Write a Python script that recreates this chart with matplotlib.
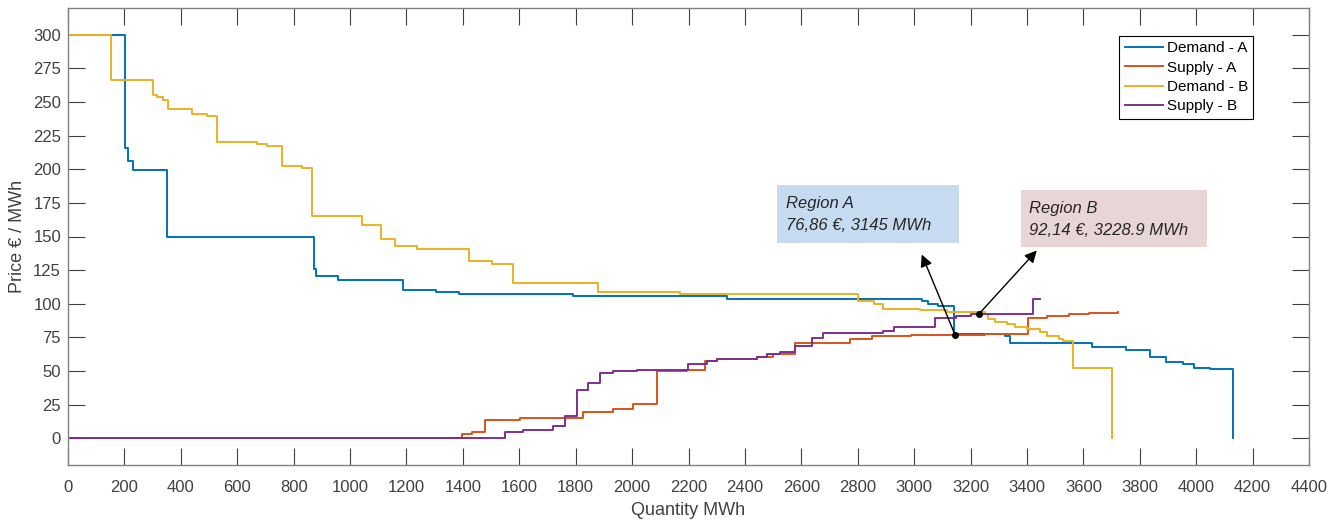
# arz / talep eğrileri, iki bölge için denge noktaları

import matplotlib
matplotlib.use("Agg")
import matplotlib.pyplot as plt
from matplotlib.patches import Rectangle

plt.rcParams["font.family"] = ["Liberation Sans", "DejaVu Sans"]

# Demand - A (basamak başlangıcı, fiyat)
talep_a_q = [0, 202, 214, 229, 350, 873, 879, 959, 1189, 1305, 1388, 1790, 2336,
             3027, 3050, 3085, 3140, 3323, 3340, 3630, 3752, 3835, 3894, 3955,
             3991, 4050, 4129, 4129]
talep_a_p = [300, 215.8, 206.4, 199.7, 150, 125.5, 120.5, 117.5, 110, 108.6, 107.4, 106, 103.7,
             102, 99.5, 98.2, 77.2, 76, 70.5, 68, 65.5, 60, 57, 55,
             52.5, 51.2, 0, 0]

# Supply - A
arz_a_q = [0, 1396, 1431, 1479, 1603, 1827, 1933, 2004, 2088, 2194, 2259, 2300,
           2442, 2500, 2578, 2773, 2850, 2990, 3090, 3250, 3405, 3470, 3550,
           3620, 3723]
arz_a_p = [0, 3, 4.7, 13.6, 15, 19.5, 21.5, 25.2, 50, 51, 57.4, 58.7,
           60, 62.4, 71, 74, 76, 76.5, 76.86, 77.5, 89.6, 91, 92,
           93, 93.5]

# Demand - B
talep_b_q = [0, 151, 303, 314, 338, 356, 439, 492, 529, 669, 705, 760, 829, 864,
             1041, 1110, 1160, 1237, 1420, 1502, 1579, 1880, 2170, 2802, 2856,
             2891, 3021, 3116, 3252, 3263, 3287, 3329, 3358, 3400, 3447, 3470,
             3512, 3529, 3565, 3701, 3701]
talep_b_p = [300, 266.3, 255, 254, 251.7, 244.8, 241, 239.3, 220.3, 219, 217.7, 202.2, 201, 165,
             158.9, 148.5, 142.8, 140.8, 131.6, 129.9, 115.6, 108.9, 107.4, 102, 99.5,
             96.3, 95.3, 93.8, 92.1, 88.8, 86.4, 84.6, 82.9, 80.9, 78.9, 75.9,
             74, 72.2, 52.5, 0, 0]

# Supply - B
arz_b_q = [0, 1550, 1614, 1720, 1762, 1804, 1844, 1887, 1933, 2016, 2199, 2265,
           2300, 2442, 2477, 2525, 2578, 2637, 2678, 2891, 2927, 3074, 3150,
           3200, 3421, 3445]
arz_b_p = [0, 4.2, 6.2, 8.7, 16.1, 35.6, 41.3, 48.8, 49.7, 51, 55.4, 57.4,
           58.7, 60.6, 62.3, 64.1, 68.5, 74.7, 78.4, 79.7, 82.5, 89.6, 91,
           92.14, 103.2, 103.2]

# denge noktaları
denge_a = (3145, 76.86)
denge_b = (3228.9, 92.14)
ok_a_uc = (3027, 136.6)
ok_b_uc = (3435, 139.6)

x_tikler = list(range(0, 4401, 200))
y_tikler = list(range(0, 301, 25))

RENKLER = {
    "Demand - A": "#0072BD",
    "Supply - A": "#D95319",
    "Demand - B": "#EDB120",
    "Supply - B": "#7E2F8E",
}

fig = plt.figure(figsize=(13.44, 5.22), dpi=100)
ax = fig.add_axes([68 / 1344, 1 - 465 / 522, 1241 / 1344, 457 / 522])

seriler = [
    ("Demand - A", talep_a_q, talep_a_p),
    ("Supply - A", arz_a_q, arz_a_p),
    ("Demand - B", talep_b_q, talep_b_p),
    ("Supply - B", arz_b_q, arz_b_p),
]
for ad, q, p in seriler:
    ax.step(q, p, where="post", color=RENKLER[ad], linewidth=1.4, label=ad)

# oklar ve noktalar
for nokta, uc in [(denge_a, ok_a_uc), (denge_b, ok_b_uc)]:
    ax.annotate("", xy=uc, xytext=nokta,
                arrowprops=dict(arrowstyle="-|>", color="black", lw=1.0,
                                mutation_scale=18, shrinkA=0, shrinkB=0))
ax.plot([denge_a[0], denge_b[0]], [denge_a[1], denge_b[1]], "o",
        color="black", markersize=4, zorder=5)

ax.set_xlim(0, 4400)
ax.set_ylim(-20, 320)
ax.set_xticks(x_tikler)
ax.set_yticks(y_tikler)
ax.tick_params(direction="in", length=12, width=0.8, top=True, right=True,
               labelsize=12, colors="#404040", labelcolor="#404040")
ax.tick_params(axis="x", pad=11)
ax.tick_params(axis="y", pad=5)
for kenar in ax.spines.values():
    kenar.set_color("#808080")
    kenar.set_linewidth(1.0)

ax.set_xlabel("Quantity MWh", fontsize=13, color="#404040", labelpad=5)
ax.set_ylabel("Price € / MWh", fontsize=13, color="#404040", labelpad=5)

leg = ax.legend(loc="upper right", bbox_to_anchor=(0.955, 0.939), borderaxespad=0,
                fontsize=11, handlelength=2.5, handletextpad=0.25,
                labelspacing=0.35, borderpad=0.35, fancybox=False,
                framealpha=1, edgecolor="black")
leg.get_frame().set_linewidth(0.8)

# bölge kutuları
kutular = [
    ((777, 185, 959, 243), "#C6DBF0", 786, (208, 230),
     ["Region A", "76,86 €, 3145 MWh"]),
    ((1021, 190, 1207, 247), "#E8D5D5", 1029, (213, 235),
     ["Region B", "92,14 €, 3228.9 MWh"]),
]
for (x0, y0, x1, y1), renk, tx, satir_y, satirlar in kutular:
    fig.add_artist(Rectangle((x0 / 1344, 1 - y1 / 522), (x1 - x0) / 1344,
                             (y1 - y0) / 522, transform=fig.transFigure,
                             facecolor=renk, edgecolor="none"))
    for sy, metin in zip(satir_y, satirlar):
        fig.text(tx / 1344, 1 - sy / 522, metin, fontsize=12, style="italic",
                 color="#262626", va="baseline", ha="left")

fig.savefig("out.png", dpi=100)
